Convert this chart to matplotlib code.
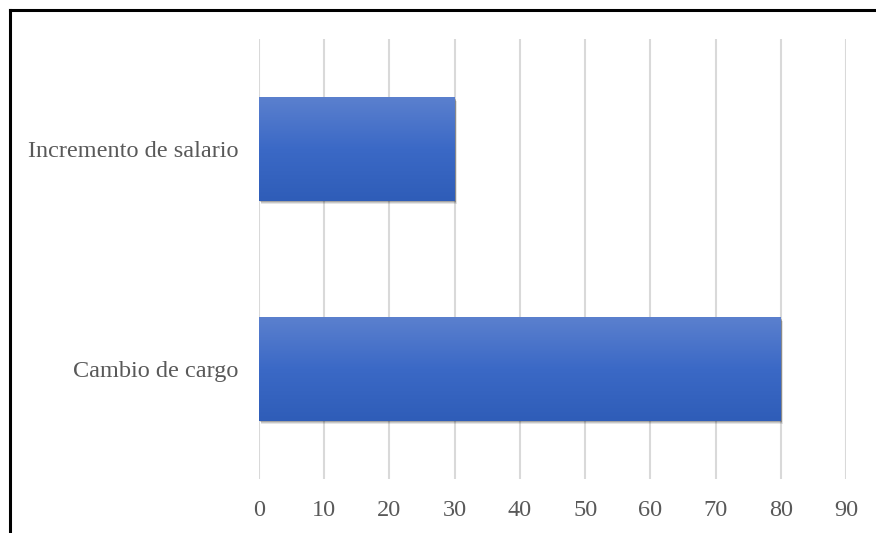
import numpy as np
import matplotlib
matplotlib.use("Agg")
import matplotlib.pyplot as plt
from matplotlib.colors import LinearSegmentedColormap
from matplotlib.lines import Line2D

categories = ["Cambio de cargo", "Incremento de salario"]
values = [80, 30]
xticks = [0, 10, 20, 30, 40, 50, 60, 70, 80, 90]

plt.rcParams["font.family"] = ["Liberation Serif", "DejaVu Serif"]

fig = plt.figure(figsize=(8.76, 5.33), dpi=100)
ax = fig.add_axes([0.2957, 0.1013, 0.6701, 0.8255])

# frame around the chart (only left and top edges show in the crop)
fig.add_artist(Line2D([0.0115, 0.0115], [0, 0.982], transform=fig.transFigure,
                      color="black", lw=2.2))
fig.add_artist(Line2D([0.0115, 1.0], [0.982, 0.982], transform=fig.transFigure,
                      color="black", lw=2.2))

ypos = np.arange(len(categories))
bars = ax.barh(ypos, values, height=0.47, color="none", zorder=3)

grad = LinearSegmentedColormap.from_list("g", ["#2F5DB8", "#3B69C6", "#5B80CE"])
g = np.linspace(0, 1, 256).reshape(-1, 1)
for b in bars:
    x0, y0, w, h = b.get_x(), b.get_y(), b.get_width(), b.get_height()
    # soft shadow
    for k, a in zip([1.0, 0.7, 0.4], [0.10, 0.13, 0.18]):
        ax.add_patch(plt.Rectangle((x0 + 0.35 * k, y0 - 0.016 * k), w, h,
                                   color="black", alpha=a, lw=0, zorder=2))
    ax.imshow(g, cmap=grad, extent=[x0, x0 + w, y0, y0 + h], origin="lower",
              aspect="auto", zorder=4, interpolation="bicubic")

ax.set_xlim(0, 90)
ax.set_ylim(-0.5, 1.5)
ax.set_xticks(xticks)
ax.set_yticks(ypos)
ax.set_yticklabels(categories)
ax.grid(axis="x", color="#D9D9D9", lw=1.5, zorder=0)
ax.set_axisbelow(True)
for s in ax.spines.values():
    s.set_visible(False)
ax.tick_params(axis="both", length=0, labelsize=17.5, colors="#595959")
ax.tick_params(axis="x", pad=15)
ax.tick_params(axis="y", pad=15)

fig.savefig("out.png", dpi=100)
